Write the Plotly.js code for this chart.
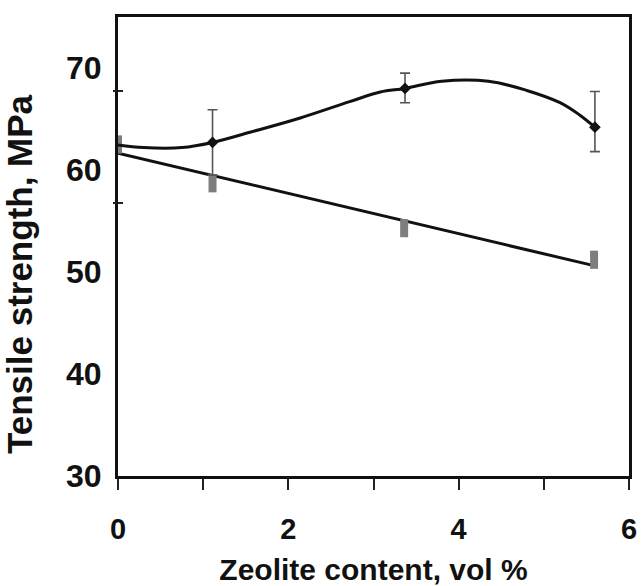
<!DOCTYPE html>
<html>
<head>
<meta charset="utf-8">
<script src="https://cdn.plot.ly/plotly-3.0.1.min.js"></script>
<style>html,body{margin:0;padding:0;background:#fff;}#chart{width:642px;height:586px;}</style>
</head>
<body>
<div id="chart"></div>
<script>
// Measured points (black markers with error bars)
var measX = [1.11, 3.37, 5.6];
var measY = [62.7, 68.0, 64.2];
var errPlus = [3.2, 1.5, 3.5];
var errMinus = [3.2, 1.4, 2.4];

// Smooth curve through the upper data
var curveX = [0, 0.3, 0.75, 1.11, 1.55, 2.14, 2.72, 3.08, 3.37, 3.8, 4.35, 4.8, 5.19, 5.42, 5.6];
var curveY = [62.45, 62.2, 62.2, 62.7, 63.7, 65.1, 66.7, 67.65, 68.0, 68.7, 68.7, 67.8, 66.6, 65.4, 64.2];

// Gray markers (second series)
var grayX = [0, 1.11, 3.36, 5.59];
var grayY = [62.5, 58.7, 54.3, 51.2];

// Trend line of the gray series
var trendX = [0, 5.6];
var trendY = [61.65, 50.6];

// Axis ticks
var xTickVals = [0, 1, 2, 3, 4, 5, 6];
var xTickText = ['0', '', '2', '', '4', '', '6'];
var yTickVals = [30, 40, 50, 60, 70];
var yTickText = ['30', '40', '50', '60', '70'];
var yMarkVals = [56.76, 67.75];

var xTitle = 'Zeolite content, vol %';
var yTitle = 'Tensile strength, MPa';

var narrow = '"Liberation Sans Narrow", "Liberation Sans", Arial, sans-serif';
var sans = '"Liberation Sans", Arial, Helvetica, sans-serif';

var traces = [
  {x: trendX, y: trendY, mode: 'lines', line: {color: '#111', width: 3}, hoverinfo: 'skip'},
  {x: grayX, y: grayY, mode: 'markers',
   marker: {symbol: 'line-ns', size: 13, color: '#7d7d7d', line: {color: '#7d7d7d', width: 8}}},
  {x: curveX, y: curveY, mode: 'lines', line: {color: '#111', width: 3, shape: 'spline', smoothing: 1}},
  {x: measX, y: measY, mode: 'markers',
   marker: {symbol: 'diamond', size: 9, color: '#111'},
   error_y: {type: 'data', symmetric: false, array: errPlus, arrayminus: errMinus,
             color: '#555', thickness: 1.6, width: 5}},
  {x: [0], y: [30], yaxis: 'y2', mode: 'markers', marker: {opacity: 0}, hoverinfo: 'skip'},
  {x: [0], y: [30], yaxis: 'y3', mode: 'markers', marker: {opacity: 0}, hoverinfo: 'skip'}
];

var layout = {
  width: 642, height: 586,
  margin: {l: 118, r: 13, t: 17, b: 110},
  paper_bgcolor: '#fff', plot_bgcolor: '#fff',
  showlegend: false,
  xaxis: {
    range: [0, 6], tickvals: xTickVals, ticktext: xTickText,
    ticks: 'outside', ticklen: 11, tickwidth: 2, tickcolor: '#222',
    showline: true, linewidth: 3, linecolor: '#111', mirror: true,
    showgrid: false, zeroline: false,
    ticklabelstandoff: 14,
    tickfont: {family: narrow, size: 29, color: '#111', weight: 'bold', stretch: 'condensed'},
    title: {text: xTitle, standoff: 17,
            font: {family: sans, size: 30, color: '#111', weight: 'bold'}}
  },
  yaxis: {
    range: [30, 75], tickvals: yTickVals, ticktext: yTickText,
    ticks: '', showline: true, linewidth: 3, linecolor: '#111', mirror: true,
    showgrid: false, zeroline: false,
    ticklabelstandoff: 7,
    tickfont: {family: narrow, size: 32, color: '#111', weight: 'bold', stretch: 'condensed'},
    title: {text: yTitle, standoff: 28,
            font: {family: sans, size: 35, color: '#111', weight: 'bold'}}
  },
  yaxis2: {
    overlaying: 'y', side: 'left', range: [30, 75], tickvals: yMarkVals,
    ticks: 'outside', ticklen: 4, tickwidth: 2, tickcolor: '#222',
    showticklabels: false, showline: false, showgrid: false, zeroline: false
  },
  yaxis3: {
    overlaying: 'y', side: 'left', range: [30, 75], tickvals: yMarkVals,
    ticks: 'inside', ticklen: 5, tickwidth: 2, tickcolor: '#222',
    showticklabels: false, showline: false, showgrid: false, zeroline: false
  }
};

Plotly.newPlot('chart', traces, layout, {displayModeBar: false, staticPlot: true}).then(function (gd) {
  // the reference's y title sits a little below the plot's middle
  var t = gd.querySelector('.ytitle');
  if (t) {
    var tr = t.getAttribute('transform') || '';
    t.setAttribute('transform', 'translate(0,28) ' + tr);
  }
});
</script>
</body>
</html>
